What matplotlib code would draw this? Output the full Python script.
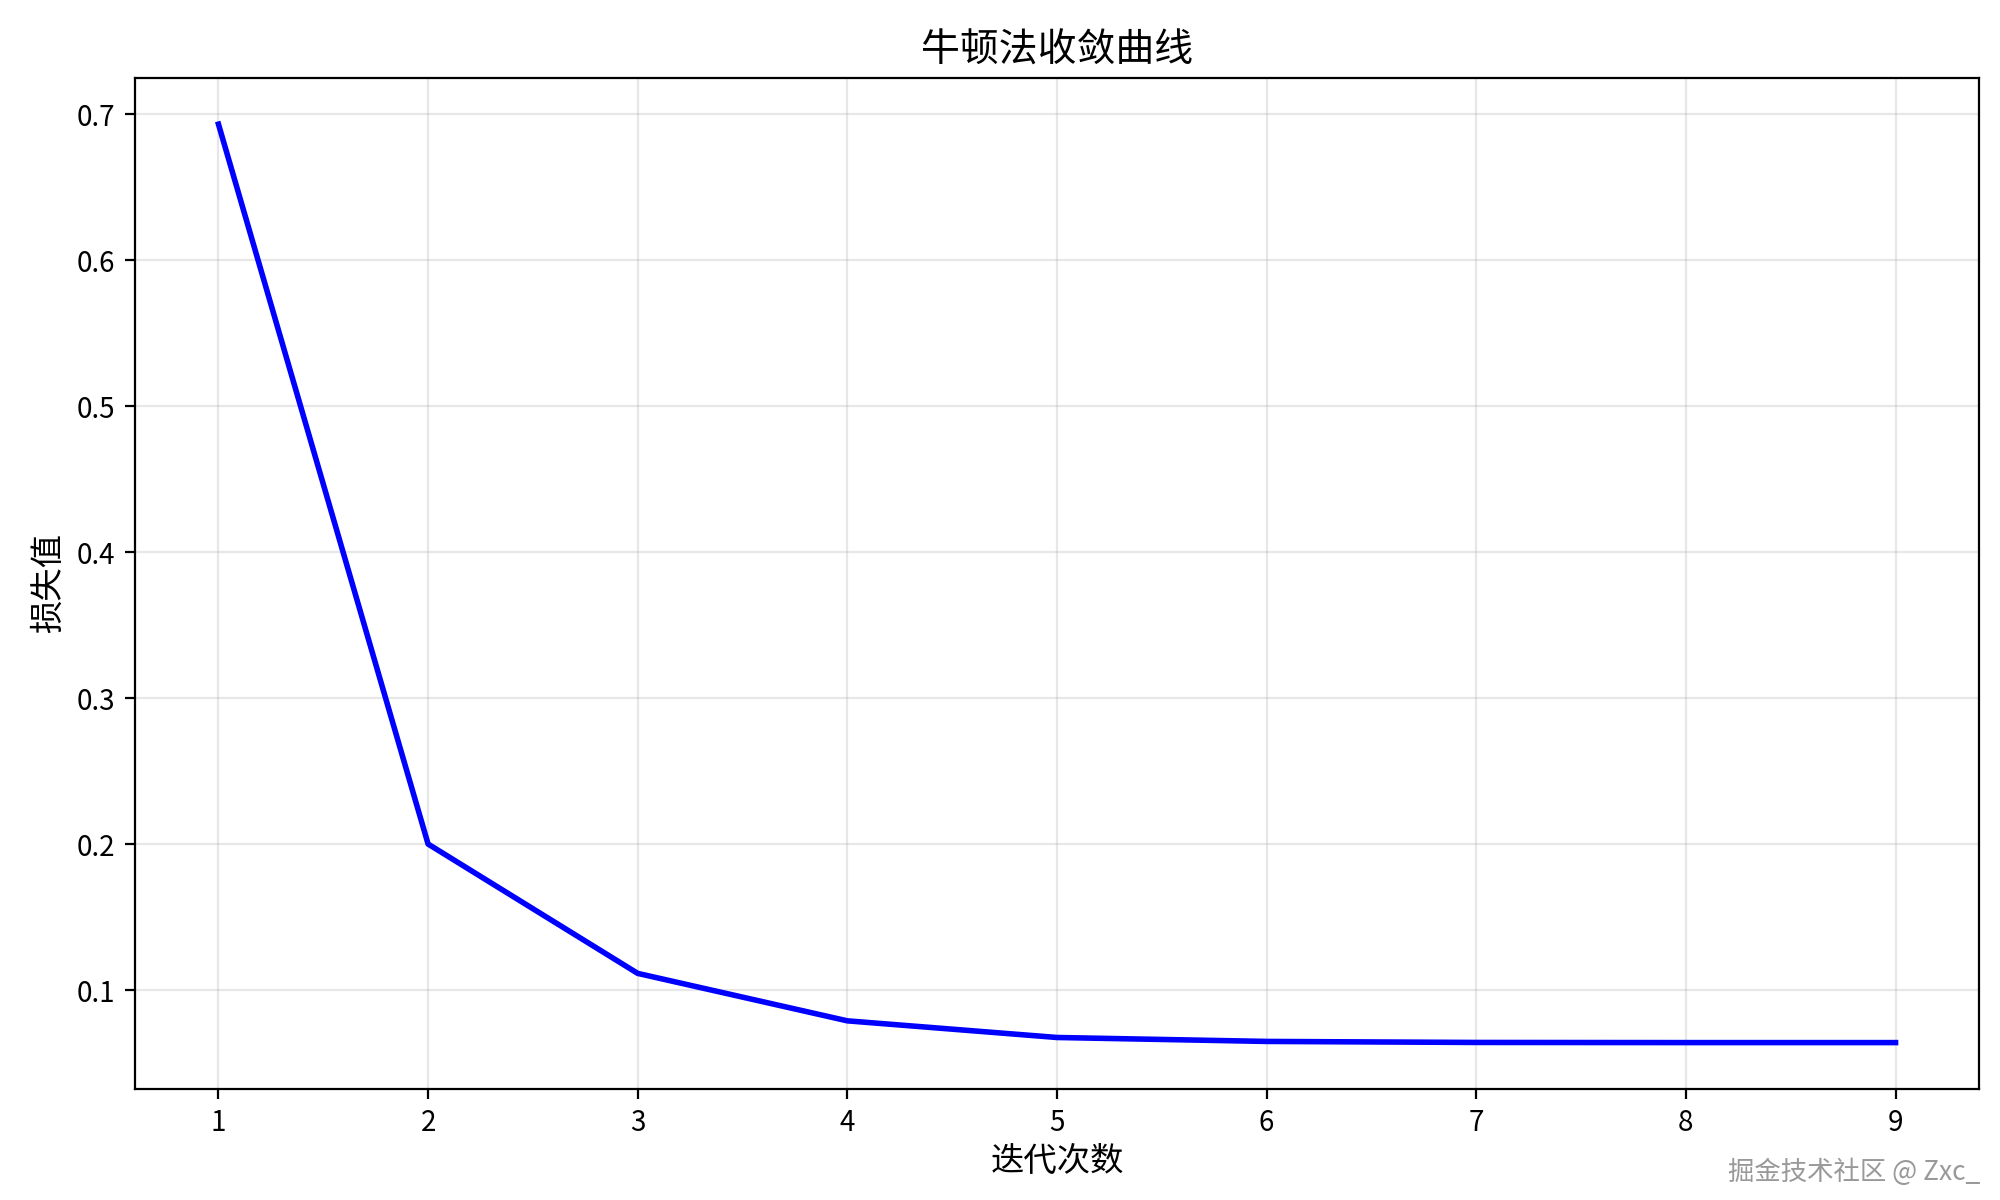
import numpy as np
import matplotlib
matplotlib.use('Agg')
import matplotlib.pyplot as plt

plt.rcParams['font.family'] = ['Noto Sans CJK SC', 'DejaVu Sans']
plt.rcParams['axes.unicode_minus'] = False

# loss per Newton iteration
iters = [1, 2, 3, 4, 5, 6, 7, 8, 9]
loss = [0.6931, 0.2000, 0.1114, 0.0789, 0.0675, 0.0648, 0.0641, 0.0640, 0.0640]

fig = plt.figure(figsize=(10, 6), dpi=200)
plt.plot(iters, loss, 'b-', linewidth=2)
plt.title('牛顿法收敛曲线', fontsize=14)
plt.xlabel('迭代次数', fontsize=12, labelpad=2)
plt.ylabel('损失值', fontsize=12)
plt.grid(True, alpha=0.3)
plt.subplots_adjust(left=0.0673, right=0.9897, top=0.9348, bottom=0.0929)

fig.text(0.990, 0.023, '掘金技术社区 @ Zxc_', ha='right', va='center',
         fontsize=9.5, color='#999999')

plt.savefig('out.png')
